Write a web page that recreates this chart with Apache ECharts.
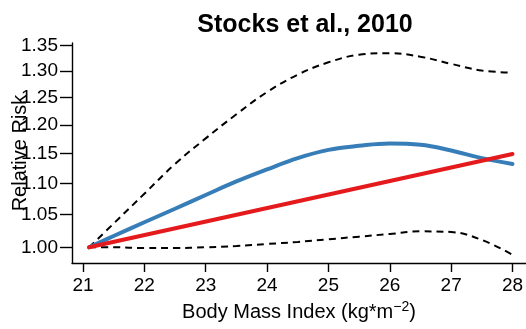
<!DOCTYPE html>
<html>
<head>
<meta charset="utf-8">
<title>Stocks et al., 2010</title>
<script src="https://cdn.jsdelivr.net/npm/echarts@6/dist/echarts.min.js"></script>
<style>
  html, body { margin: 0; padding: 0; background: #fff; }
  #chart { width: 526px; height: 329px; }
</style>
</head>
<body>
<div id="chart"></div>
<script>
// BMI grid of the spline curves
const bmi = [21.1, 21.5, 22, 22.5, 23, 23.5, 24, 24.5, 25, 25.5, 26, 26.5, 27, 27.5, 28];
// spline estimate and its confidence band
const splineRR = [1.000, 1.017, 1.038, 1.059, 1.081, 1.103, 1.123, 1.142, 1.156, 1.163, 1.167, 1.165, 1.155, 1.142, 1.132];
const upperRR = [1.000, 1.036, 1.083, 1.132, 1.176, 1.219, 1.260, 1.293, 1.317, 1.332, 1.335, 1.328, 1.314, 1.301, 1.297];
const lowerRR = [1.000, 1.000, 0.999, 0.999, 1.000, 1.002, 1.005, 1.008, 1.012, 1.016, 1.020, 1.024, 1.023, 1.011, 0.989];
// log-linear fit
const linearBmi = [21.1, 28];
const linearRR = [1.000, 1.149];

const xTicks = [21, 22, 23, 24, 25, 26, 27, 28];
const yTicks = [1.00, 1.05, 1.10, 1.15, 1.20, 1.25, 1.30, 1.35];

const FONT = 'Liberation Sans, Arial, Helvetica, sans-serif';

const pairs = (xs, ys) => xs.map((x, i) => [x, ys[i]]);

const chart = echarts.init(document.getElementById('chart'), null, { renderer: 'canvas' });

const option = {
  animation: false,
  title: {
    text: 'Stocks et al., 2010',
    left: 300,
    top: 8,
    textAlign: 'center',
    textStyle: { fontFamily: FONT, fontSize: 25, fontWeight: 'bold', color: '#000' },
  },
  grid: { left: 72, right: 0, top: 43, bottom: 66, containLabel: false, outerBoundsMode: 'none' },
  xAxis: {
    type: 'value',
    min: 20.821,
    max: 28.22,
    splitLine: { show: false },
    axisLine: { show: true, onZero: false, lineStyle: { color: '#000', width: 1.4 } },
    axisTick: { show: true, length: 9, customValues: xTicks, lineStyle: { color: '#000', width: 1.4 } },
    axisLabel: { customValues: xTicks, margin: 13, color: '#000', fontFamily: FONT, fontSize: 19 },
    name: 'Body Mass Index (kg*m{sup|−2})',
    nameLocation: 'middle',
    nameGap: 36,
    nameTextStyle: {
      fontFamily: FONT, fontSize: 20, color: '#000',
      rich: { sup: { fontFamily: FONT, fontSize: 14, color: '#000', verticalAlign: 'top', padding: [0, 0, 12, 0] } },
    },
  },
  yAxis: {
    type: 'log',
    logBase: 10,
    min: 0.9769,
    max: 1.3554,
    splitLine: { show: false },
    axisLine: { show: true, onZero: false, lineStyle: { color: '#000', width: 1.4 } },
    axisTick: { show: true, length: 12, customValues: yTicks, lineStyle: { color: '#000', width: 1.4 } },
    axisLabel: {
      customValues: yTicks, margin: 14, color: '#000', fontFamily: FONT, fontSize: 19,
      formatter: (v) => Number(v).toFixed(2),
    },
    name: 'Relative Risk',
    nameLocation: 'middle',
    nameGap: 42,
    nameMoveOverlap: false,
    nameTextStyle: { fontFamily: FONT, fontSize: 20, color: '#000' },
  },
  series: [
    {
      name: 'upper',
      type: 'line',
      data: pairs(bmi, upperRR),
      smooth: 0.4,
      symbol: 'none',
      lineStyle: { color: '#000', width: 2, type: [7, 5] },
    },
    {
      name: 'lower',
      type: 'line',
      data: pairs(bmi, lowerRR),
      smooth: 0.4,
      symbol: 'none',
      lineStyle: { color: '#000', width: 2, type: [7, 5] },
    },
    {
      name: 'spline',
      type: 'line',
      data: pairs(bmi, splineRR),
      smooth: 0.4,
      symbol: 'none',
      lineStyle: { color: '#377EB8', width: 4, cap: 'round' },
    },
    {
      name: 'linear',
      type: 'line',
      data: pairs(linearBmi, linearRR),
      symbol: 'none',
      lineStyle: { color: '#E41A1C', width: 4, cap: 'round' },
    },
  ],
};

chart.setOption(option);
</script>
</body>
</html>
